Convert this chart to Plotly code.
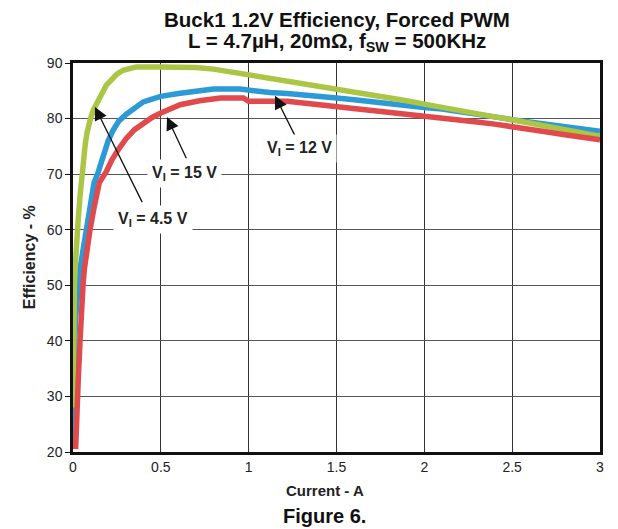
import plotly.graph_objects as go

# ---- data ----
x_45 = [0.0, 0.001, 0.003, 0.005, 0.008, 0.012, 0.018, 0.025, 0.03, 0.04, 0.05, 0.06, 0.07, 0.08,
        0.09, 0.10, 0.115, 0.135, 0.15, 0.165, 0.19, 0.22, 0.25, 0.285, 0.32, 0.36, 0.5, 0.7, 0.8,
        0.86, 0.93, 1.0, 1.12, 1.23, 1.32, 1.41, 1.5, 1.6, 1.7, 1.8, 1.9, 2.0, 2.1, 2.2, 2.3, 2.4,
        2.5, 2.6, 2.7, 2.8, 2.9, 3.0]
eff_45 = [28, 35, 40, 45, 50, 53, 57, 60, 62, 66, 70, 73, 75.5, 77.5,
          79, 80, 81.5, 82.7, 84, 85, 86, 87, 88, 88.7, 89, 89.3, 89.3, 89.2, 88.9,
          88.6, 88.2, 87.7, 87.2, 86.6, 86.2, 85.7, 85.3, 84.8, 84.3, 83.7, 83.2, 82.6, 82.0, 81.3, 80.8, 80.3,
          79.8, 79.2, 78.6, 78.0, 77.4, 76.8]

x_15 = [0.0, 0.001, 0.003, 0.006, 0.01, 0.015, 0.02, 0.03, 0.04, 0.05, 0.06, 0.07, 0.085, 0.1,
        0.12, 0.14, 0.16, 0.18, 0.2, 0.23, 0.26, 0.3, 0.35, 0.4, 0.45, 0.5, 0.6, 0.7, 0.8, 0.95,
        1.0, 1.12, 1.22, 1.4, 1.5, 1.6, 1.7, 1.8, 1.9, 2.0, 2.1, 2.2, 2.3, 2.4, 2.5, 2.6, 2.7, 2.8,
        2.9, 3.0]
eff_15 = [21, 25, 30, 35, 40, 44, 47, 50, 53, 55, 58, 60, 63, 66,
          68.5, 70, 72, 74, 76, 78, 79.5, 80.7, 82, 83, 83.5, 84, 84.5, 85, 85.3, 85.3,
          85.1, 84.7, 84.5, 84.1, 83.7, 83.4, 83.0, 82.7, 82.4, 82.0, 81.7, 81.3, 80.8, 80.3, 79.8, 79.4, 78.9, 78.5,
          78.1, 77.7]

x_12 = [0.015, 0.017, 0.02, 0.022, 0.03, 0.04, 0.045, 0.05, 0.057, 0.065, 0.08, 0.097, 0.12, 0.15,
        0.19, 0.22, 0.26, 0.3, 0.35, 0.4, 0.45, 0.5, 0.55, 0.61, 0.72, 0.84, 0.97, 1.0, 1.22, 1.4,
        1.5, 1.6, 1.7, 1.8, 1.9, 2.0, 2.1, 2.2, 2.3, 2.4, 2.5, 2.6, 2.7, 2.8, 2.9, 3.0]
eff_12 = [20.5, 23, 27, 30, 33, 40, 44, 46, 50, 53, 57, 60, 64, 68.5,
          70.5, 72.5, 74.5, 76.3, 78, 79.2, 80.2, 81, 81.7, 82.5, 83.2, 83.7, 83.7, 83.1, 83.1, 82.5,
          82.3, 81.9, 81.5, 81.1, 80.8, 80.4, 80.1, 79.8, 79.4, 79.0, 78.6, 78.1, 77.6, 77.1, 76.7, 76.2]

x_ticks = [0, 0.5, 1, 1.5, 2, 2.5, 3]
x_tick_labels = ["0", "0.5", "1", "1.5", "2", "2.5", "3"]
y_ticks = [20, 30, 40, 50, 60, 70, 80, 90]

title_lines = ["Buck1 1.2V Efficiency, Forced PWM",
               "L = 4.7µH, 20mΩ, f<sub>SW</sub> = 500KHz"]

# annotations: label, text position, arrow tail, arrow tip (data coords)
labels = ["V<sub>I</sub> = 4.5 V", "V<sub>I</sub> = 15 V", "V<sub>I</sub> = 12 V"]
label_pos = [(0.455, 61.8), (0.637, 70.1), (1.292, 74.6)]
arrow_tail = [(0.398, 64.7), (0.649, 72.6), (1.281, 75.8)]
arrow_tip = [(0.125, 82.1), (0.535, 80.3), (1.150, 84.1)]

GREEN = "#abc645"
BLUE = "#2b9ad6"
RED = "#e04a4c"
FONT = "Liberation Sans, Arial, sans-serif"

fig = go.Figure()
fig.add_trace(go.Scatter(x=x_15, y=eff_15, mode="lines", line=dict(color=BLUE, width=5.5), name="15 V"))
fig.add_trace(go.Scatter(x=x_45, y=eff_45, mode="lines", line=dict(color=GREEN, width=5.5), name="4.5 V"))
fig.add_trace(go.Scatter(x=x_12, y=eff_12, mode="lines", line=dict(color=RED, width=5.5), name="12 V"))

annotations = []
for (tx, ty), (hx, hy) in zip(arrow_tail, arrow_tip):
    annotations.append(dict(x=hx, y=hy, ax=tx, ay=ty, xref="x", yref="y", axref="x", ayref="y",
                            text="", showarrow=True, arrowhead=2, arrowsize=2, arrowwidth=1.3,
                            arrowcolor="#111"))
for lab, (lx, ly) in zip(labels, label_pos):
    annotations.append(dict(x=lx, y=ly, xref="x", yref="y", text="<b>" + lab + "</b>",
                            showarrow=False, bgcolor="white", borderpad=4,
                            font=dict(family=FONT, size=16, color="#222")))

# title lines (paper coords; plot area spans 63..452 px vertically)
annotations.append(dict(x=0.5, y=1.113, xref="paper", yref="paper", xanchor="center", yanchor="middle",
                        text="<b>" + title_lines[0] + "</b>", showarrow=False,
                        font=dict(family=FONT, size=20.5, color="#111")))
annotations.append(dict(x=0.5, y=1.053, xref="paper", yref="paper", xanchor="center", yanchor="middle",
                        text="<b>" + title_lines[1] + "</b>", showarrow=False,
                        font=dict(family=FONT, size=20.5, color="#111")))
annotations.append(dict(x=0.478, y=-0.1, xref="paper", yref="paper", xanchor="center", yanchor="middle",
                        text="<b>Current - A</b>", showarrow=False,
                        font=dict(family=FONT, size=15, color="#222")))
annotations.append(dict(x=0.478, y=-0.165, xref="paper", yref="paper", xanchor="center", yanchor="middle",
                        text="<b>Figure 6.</b>", showarrow=False,
                        font=dict(family=FONT, size=20, color="#111")))
annotations.append(dict(x=-0.082, y=0.5, xref="paper", yref="paper", xanchor="center", yanchor="middle",
                        text="<b>Efficiency - %</b>", textangle=-90, showarrow=False,
                        font=dict(family=FONT, size=16, color="#222")))

fig.update_layout(
    width=618, height=529,
    margin=dict(l=73, r=18, t=63, b=77),
    paper_bgcolor="white", plot_bgcolor="white",
    showlegend=False,
    annotations=annotations,
)
fig.update_xaxes(range=[0, 3], tickvals=x_ticks, ticktext=x_tick_labels,
                 showgrid=True, gridcolor="#333", gridwidth=1,
                 showline=True, linecolor="#111", linewidth=2.5, mirror=True,
                 ticks="", zeroline=False,
                 tickfont=dict(family=FONT, size=14, color="#222"))
fig.update_yaxes(range=[20, 90], tickvals=y_ticks,
                 showgrid=True, gridcolor="#555", gridwidth=1,
                 showline=True, linecolor="#111", linewidth=2.5, mirror=True,
                 ticks="outside", ticklen=5, tickcolor="#111", zeroline=False,
                 tickfont=dict(family=FONT, size=14, color="#222"))

fig.write_html("out.html", config={"displayModeBar": False},
               post_script="document.body.style.margin='0px';document.body.style.padding='0px';")
